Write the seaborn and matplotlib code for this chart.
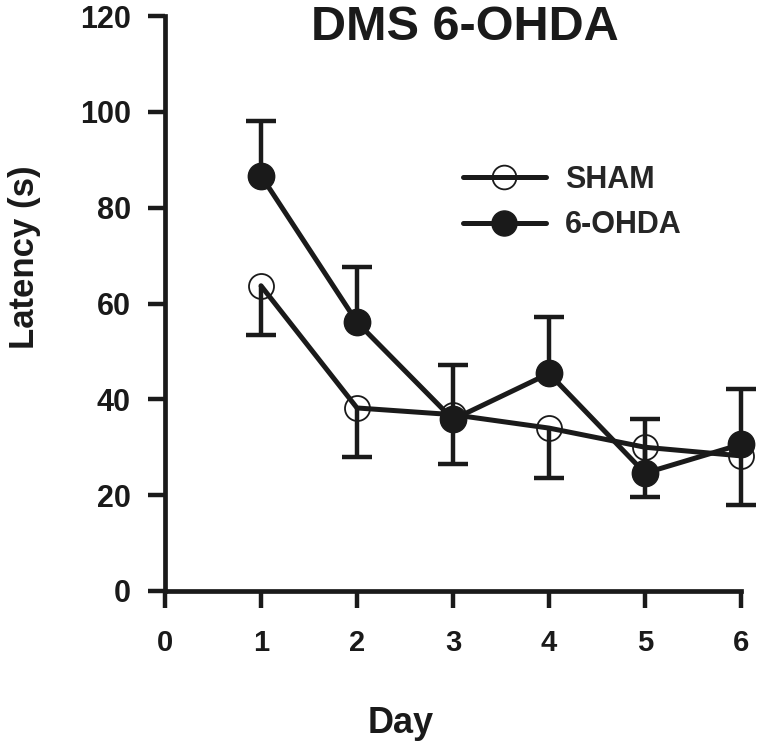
import numpy as np
import pandas as pd
import matplotlib
matplotlib.use("Agg")
import matplotlib.pyplot as plt
import seaborn as sns

# values
days = [1, 2, 3, 4, 5, 6]
sham_mean = [63.7, 38.2, 36.8, 34.0, 30.0, 28.2]
sham_sem = [10.3, 10.3, 10.2, 10.4, 10.4, 10.2]
ohda_mean = [86.7, 56.1, 35.8, 45.4, 24.6, 30.6]
ohda_sem = [11.4, 11.6, 11.3, 11.7, 11.4, 11.5]
x_ticks = [0, 1, 2, 3, 4, 5, 6]
y_ticks = [0, 20, 40, 60, 80, 100, 120]

df = pd.DataFrame({
    "Day": days * 2,
    "Latency": sham_mean + ohda_mean,
    "Group": ["SHAM"] * 6 + ["6-OHDA"] * 6,
})

sns.set_style("ticks")
plt.rcParams['font.family'] = ['Liberation Sans', 'DejaVu Sans']
plt.rcParams['font.weight'] = 'bold'

fig = plt.figure(figsize=(7.63, 7.43), dpi=100)
ax = fig.add_axes([165 / 763, 1 - 591 / 743, 576 / 763, 575 / 743])

ink = "#1a1a1a"
lw = 3.6
# one-sided error bars: SHAM below, 6-OHDA above
s_m, s_e = np.array(sham_mean), np.array(sham_sem)
o_m, o_e = np.array(ohda_mean), np.array(ohda_sem)
ax.vlines(days, s_m - s_e, s_m, color=ink, lw=3.2, zorder=2, clip_on=False)
ax.plot(days, s_m - s_e, ls="none", marker="_", ms=22, mew=3.2, color=ink,
        zorder=2, clip_on=False)
ax.vlines(days, o_m, o_m + o_e, color=ink, lw=3.2, zorder=2, clip_on=False)
ax.plot(days, o_m + o_e, ls="none", marker="_", ms=22, mew=3.2, color=ink,
        zorder=2, clip_on=False)

sns.lineplot(data=df[df.Group == "SHAM"], x="Day", y="Latency", ax=ax,
             color=ink, lw=lw, marker="o", markersize=18,
             markerfacecolor="none", markeredgecolor=ink,
             markeredgewidth=1.3, label="SHAM", zorder=3, clip_on=False)
sns.lineplot(data=df[df.Group == "6-OHDA"], x="Day", y="Latency", ax=ax,
             color=ink, lw=lw, marker="o", markersize=19,
             markerfacecolor=ink, markeredgecolor=ink,
             markeredgewidth=1, label="6-OHDA", zorder=4, clip_on=False)

ax.set_xlim(0, 6)
ax.set_ylim(0, 120)
ax.set_xticks(x_ticks)
ax.set_yticks(y_ticks)
sns.despine(ax=ax)
for s in ["left", "bottom"]:
    ax.spines[s].set_linewidth(3.4)
    ax.spines[s].set_color(ink)
ax.tick_params(axis="both", length=12.5, width=3.2, color=ink,
               labelcolor=ink)
ax.tick_params(axis="y", labelsize=22, pad=12)
ax.tick_params(axis="x", labelsize=21, pad=15)
for lab in ax.get_xticklabels() + ax.get_yticklabels():
    lab.set_fontweight("bold")

ax.set_xlabel("Day", fontsize=26, fontweight="bold", color=ink)
ax.xaxis.set_label_coords(0.41, -0.2)
ax.set_ylabel("Latency (s)", fontsize=25, fontweight="bold", color=ink)
ax.yaxis.set_label_coords(-0.215, 0.58)

fig.text(465 / 763, 1 - 28 / 743, "DMS 6-OHDA", ha="center", va="center",
         fontsize=35, fontweight="bold", color=ink)

ax.legend(loc="upper left", bbox_to_anchor=(463 / 763, 1 - 165 / 743),
          bbox_transform=fig.transFigure, frameon=False, fontsize=22,
          handlelength=2.7, handletextpad=0.65, labelspacing=0.5,
          borderpad=0, borderaxespad=0, markerscale=0.95)

fig.savefig("out.png", dpi=100)
